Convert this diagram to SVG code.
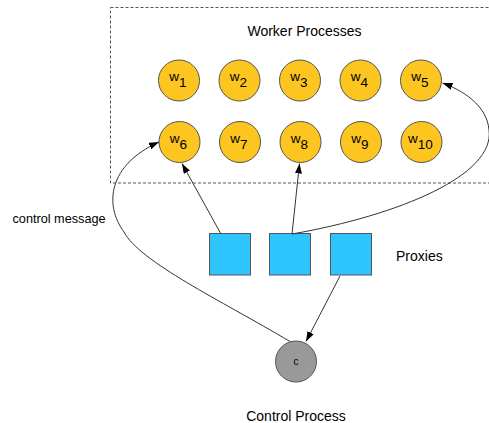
<svg xmlns="http://www.w3.org/2000/svg" width="489" height="423" viewBox="0 0 489 423">
  <style>
    text { font-family: "Liberation Sans", Arial, sans-serif; fill: #000; }
    .worker circle { fill: #fdc51f; stroke: #555; stroke-width: 1; }
    .worker text { font-size: 13.5px; text-anchor: middle; }
    .proxy rect { fill: #2ec4fe; stroke: #555; stroke-width: 1; }
    .edge { fill: none; stroke: #333; stroke-width: 1; }
    .label { font-size: 14px; }
  </style>
  <defs>
    <marker id="arrow" markerUnits="userSpaceOnUse" markerWidth="11" markerHeight="8" refX="10" refY="3.5" orient="auto">
      <path d="M0,0 L10,3.5 L0,7 z" fill="#000"/>
    </marker>
  </defs>

  <rect width="489" height="423" fill="#fff"/>

  <!-- worker pool boundary (open on the right) -->
  <rect id="pool" x="110.5" y="7.5" width="400" height="175.5" fill="none" stroke="#555" stroke-width="1" stroke-dasharray="3,2"/>
  <text class="label" x="304.5" y="36" text-anchor="middle" font-size="13.7">Worker Processes</text>

  <!-- workers, row 1 -->
  <g id="w1" class="worker"><circle cx="179" cy="80.5" r="20.5"/><text x="178" y="81">w<tspan dy="6">1</tspan></text></g>
  <g id="w2" class="worker"><circle cx="239.5" cy="80.5" r="20.5"/><text x="238.5" y="81">w<tspan dy="6">2</tspan></text></g>
  <g id="w3" class="worker"><circle cx="300" cy="80.5" r="20.5"/><text x="299" y="81">w<tspan dy="6">3</tspan></text></g>
  <g id="w4" class="worker"><circle cx="360.5" cy="80.5" r="20.5"/><text x="359.5" y="81">w<tspan dy="6">4</tspan></text></g>
  <g id="w5" class="worker"><circle cx="421" cy="80.5" r="20.5"/><text x="420" y="81">w<tspan dy="6">5</tspan></text></g>

  <!-- workers, row 2 -->
  <g id="w6" class="worker"><circle cx="179.5" cy="142" r="20.5"/><text x="178.5" y="142.5">w<tspan dy="6">6</tspan></text></g>
  <g id="w7" class="worker"><circle cx="240" cy="142" r="20.5"/><text x="239" y="142.5">w<tspan dy="6">7</tspan></text></g>
  <g id="w8" class="worker"><circle cx="300.5" cy="142" r="20.5"/><text x="299.5" y="142.5">w<tspan dy="6">8</tspan></text></g>
  <g id="w9" class="worker"><circle cx="361" cy="142" r="20.5"/><text x="360" y="142.5">w<tspan dy="6">9</tspan></text></g>
  <g id="w10" class="worker"><circle cx="421.5" cy="142" r="20.5"/><text x="420.5" y="142.5">w<tspan dy="6">10</tspan></text></g>

  <!-- proxies -->
  <g id="proxy1" class="proxy"><rect x="209.5" y="233.5" width="41" height="41.5"/></g>
  <g id="proxy2" class="proxy"><rect x="269.5" y="233.5" width="41" height="41.5"/></g>
  <g id="proxy3" class="proxy"><rect x="330.5" y="233.5" width="41" height="41.5"/></g>
  <text class="label" x="396" y="261" font-size="14.7">Proxies</text>

  <!-- control process -->
  <g id="control">
    <circle cx="296" cy="361.5" r="20.5" fill="#999" stroke="#555" stroke-width="1"/>
    <text x="296" y="365" text-anchor="middle" font-size="10">c</text>
  </g>
  <text class="label" x="296" y="421" text-anchor="middle" font-size="13.5">Control Process</text>

  <text x="12.5" y="223.3" font-size="12.7">control message</text>

  <!-- connectors -->
  <g id="connectors">
    <line class="edge" x1="221" y1="234" x2="182" y2="163.5" marker-end="url(#arrow)"/>
    <line class="edge" x1="292" y1="234" x2="299.5" y2="163.5" marker-end="url(#arrow)"/>
    <path class="edge" d="M292,234 C400,215 495,175 489,130 C487,105 462,90 442.5,83" marker-end="url(#arrow)"/>
    <line class="edge" x1="340" y1="276" x2="306" y2="341.5" marker-end="url(#arrow)"/>
    <path class="edge" d="M290,341.5 C220,300 140,262 124,232 C104,205 108,165 159,142" marker-end="url(#arrow)"/>
  </g>
</svg>
